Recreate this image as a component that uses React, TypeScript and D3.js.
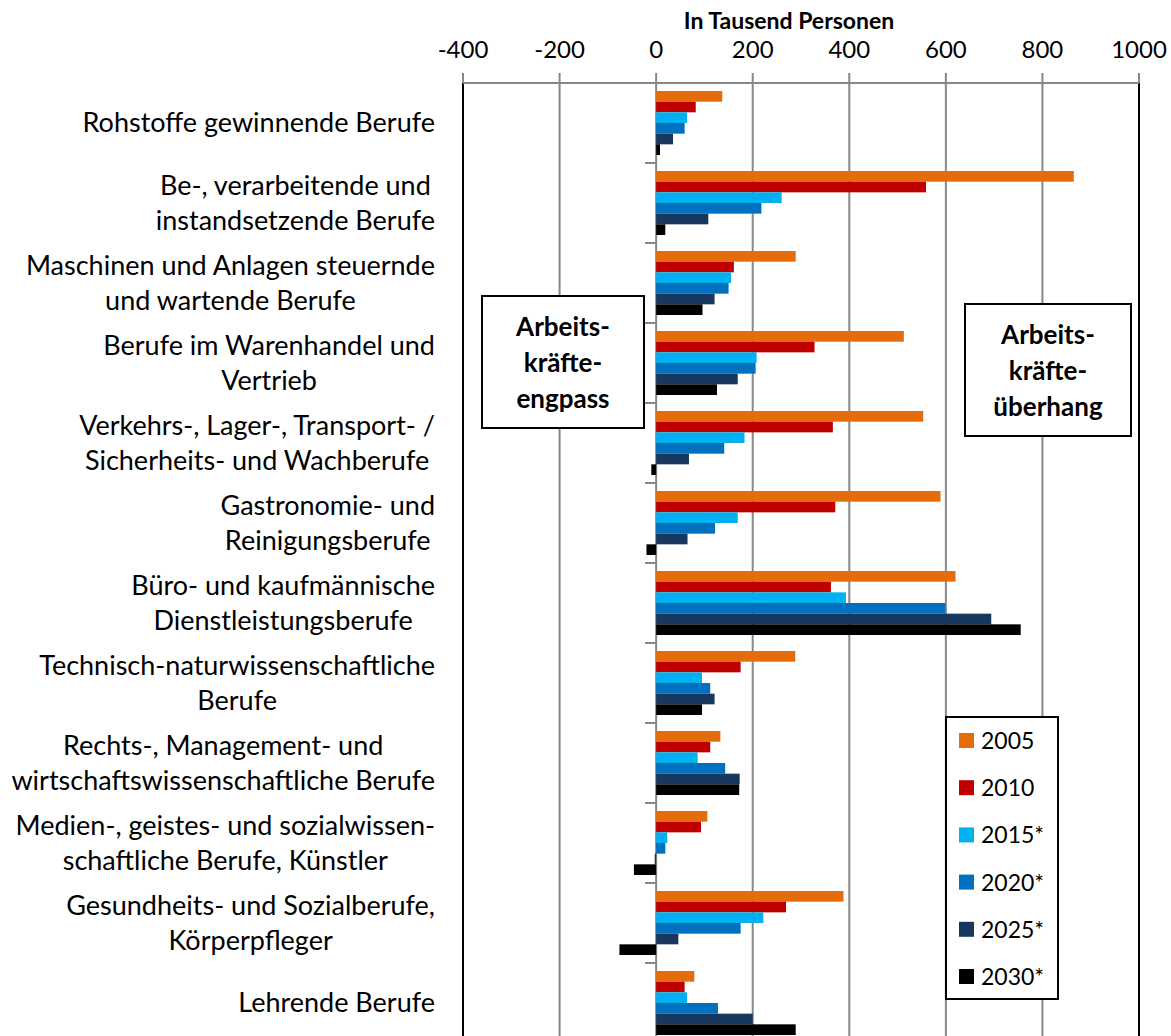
import React, { useEffect, useRef } from "react";
import * as d3 from "d3";

const categories: string[] = [
  "Rohstoffe gewinnende Berufe",
  "Be-, verarbeitende und\ninstandsetzende Berufe",
  "Maschinen und Anlagen steuernde\nund wartende Berufe",
  "Berufe im Warenhandel und\nVertrieb",
  "Verkehrs-, Lager-, Transport- /\nSicherheits- und Wachberufe",
  "Gastronomie- und\nReinigungsberufe",
  "Büro- und kaufmännische\nDienstleistungsberufe",
  "Technisch-naturwissenschaftliche\nBerufe",
  "Rechts-, Management- und\nwirtschaftswissenschaftliche Berufe",
  "Medien-, geistes- und sozialwissen-\nschaftliche Berufe, Künstler",
  "Gesundheits- und Sozialberufe,\nKörperpfleger",
  "Lehrende Berufe",
];

const seriesNames: string[] = ["2005", "2010", "2015*", "2020*", "2025*", "2030*"];
const seriesColors: string[] = ["#E46C0A", "#C00000", "#00B0F0", "#0070C0", "#17375E", "#000000"];

const values2005: number[] = [137, 865, 289, 513, 553, 589, 620, 288, 133, 106, 388, 79];
const values2010: number[] = [82, 559, 161, 328, 366, 371, 362, 175, 112, 93, 269, 59];
const values2015: number[] = [64, 260, 155, 208, 183, 169, 393, 95, 86, 23, 222, 64];
const values2020: number[] = [59, 218, 150, 206, 141, 122, 599, 112, 143, 19, 175, 128];
const values2025: number[] = [35, 108, 121, 169, 68, 65, 694, 121, 173, -3, 46, 200];
const values2030: number[] = [8, 19, 96, 126, -10, -20, 755, 95, 172, -46, -76, 289];

const xTicks: number[] = [-400, -200, 0, 200, 400, 600, 800, 1000];
const axisTitle = "In Tausend Personen";
const leftNote = ["Arbeits-", "kräfte-", "engpass"];
const rightNote = ["Arbeits-", "kräfte-", "überhang"];

const W = 1171;
const H = 1036;
const FONT = "Lato, 'Open Sans', sans-serif";

export default function App() {
  const ref = useRef<SVGSVGElement>(null);

  useEffect(() => {
    document.body.style.margin = "0";
    const seriesValues = [values2005, values2010, values2015, values2020, values2025, values2030];
    const svg = d3.select(ref.current);
    svg.selectAll("*").remove();

    const plot = { left: 463, right: 1139, top: 83, bottom: 1043 };
    const x = d3.scaleLinear().domain([-400, 1000]).range([plot.left, plot.right]);
    const y = d3
      .scaleBand<string>()
      .domain(categories)
      .range([plot.top, plot.bottom])
      .paddingInner(0.2)
      .paddingOuter(0.1);
    const ys = d3.scaleBand<string>().domain(seriesNames).range([0, y.bandwidth()]);
    const gap = (y.step() - y.bandwidth()) / 2;

    svg.append("rect").attr("width", W).attr("height", H).attr("fill", "#fff");

    const grid = "#878787";
    svg
      .append("g")
      .selectAll("line")
      .data(xTicks.filter((t) => t !== -400 && t !== 1000))
      .join("line")
      .attr("x1", (d) => x(d))
      .attr("x2", (d) => x(d))
      .attr("y1", plot.top)
      .attr("y2", plot.bottom)
      .attr("stroke", grid)
      .attr("stroke-width", 2);

    svg
      .append("rect")
      .attr("x", plot.left)
      .attr("y", plot.top)
      .attr("width", plot.right - plot.left)
      .attr("height", plot.bottom - plot.top)
      .attr("fill", "none")
      .attr("stroke", "#000")
      .attr("stroke-width", 2);

    svg
      .append("line")
      .attr("x1", plot.left)
      .attr("x2", plot.right)
      .attr("y1", plot.top)
      .attr("y2", plot.top)
      .attr("stroke", grid)
      .attr("stroke-width", 2);
    svg
      .append("g")
      .selectAll("line")
      .data(xTicks)
      .join("line")
      .attr("x1", (d) => x(d))
      .attr("x2", (d) => x(d))
      .attr("y1", plot.top - 10)
      .attr("y2", plot.top)
      .attr("stroke", grid)
      .attr("stroke-width", 2);
    svg
      .append("g")
      .selectAll("text")
      .data(xTicks)
      .join("text")
      .attr("x", (d) => x(d))
      .attr("y", 58)
      .attr("text-anchor", "middle")
      .attr("font-family", FONT)
      .attr("font-size", 24)
      .attr("fill", "#000")
      .text((d) => String(d));
    svg
      .append("text")
      .attr("x", 789)
      .attr("y", 29)
      .attr("text-anchor", "middle")
      .attr("font-family", FONT)
      .attr("font-weight", "bold")
      .attr("font-size", 23)
      .attr("fill", "#000")
      .text(axisTitle);

    const bounds = categories.map((c) => (y(c) as number) - gap).concat([plot.bottom]);
    svg
      .append("g")
      .selectAll("line")
      .data(bounds)
      .join("line")
      .attr("x1", x(0) - 11)
      .attr("x2", x(0))
      .attr("y1", (d) => d)
      .attr("y2", (d) => d)
      .attr("stroke", grid)
      .attr("stroke-width", 2);

    seriesNames.forEach((s, si) => {
      svg
        .append("g")
        .selectAll("rect")
        .data(categories.map((c, ci) => ({ c, v: seriesValues[si][ci] })))
        .join("rect")
        .attr("x", (d) => x(Math.min(0, d.v)))
        .attr("width", (d) => Math.abs(x(d.v) - x(0)))
        .attr("y", (d) => (y(d.c) as number) + (ys(s) as number))
        .attr("height", ys.bandwidth())
        .attr("fill", seriesColors[si]);
    });

    const labelRight = 435;
    const lineH = 35;
    const fs = 27;
    categories.forEach((c) => {
      const lines = c.split("\n");
      const g = svg.append("g");
      const texts = lines.map((l) =>
        g
          .append("text")
          .attr("font-family", FONT)
          .attr("font-size", fs)
          .attr("fill", "#000")
          .attr("text-anchor", "middle")
          .text(l)
      );
      const widths = texts.map((t) => (t.node() as SVGTextElement).getComputedTextLength());
      const bw = Math.max(...widths);
      const cx = labelRight - bw / 2;
      const cy = (y(c) as number) + y.bandwidth() / 2;
      texts.forEach((t, i) => {
        const ly = cy + (i - (lines.length - 1) / 2) * lineH;
        t.attr("x", cx).attr("y", ly + fs * 0.34);
      });
    });

    const drawNote = (lines: string[], x0: number, x1: number, y0: number, y1: number) => {
      const g = svg.append("g");
      g.append("rect")
        .attr("x", x0)
        .attr("y", y0)
        .attr("width", x1 - x0)
        .attr("height", y1 - y0)
        .attr("fill", "#fff")
        .attr("stroke", "#000")
        .attr("stroke-width", 2);
      const cx = (x0 + x1) / 2;
      const cy = (y0 + y1) / 2;
      lines.forEach((l, i) => {
        g.append("text")
          .attr("x", cx)
          .attr("y", cy + (i - 1) * 36 + 9.5)
          .attr("text-anchor", "middle")
          .attr("font-family", FONT)
          .attr("font-weight", "bold")
          .attr("font-size", 26)
          .attr("fill", "#000")
          .text(l);
      });
    };
    drawNote(leftNote, 482, 644, 296, 428);
    drawNote(rightNote, 965, 1131, 304, 436);

    const lg = svg.append("g");
    lg.append("rect")
      .attr("x", 946)
      .attr("y", 717)
      .attr("width", 112)
      .attr("height", 282)
      .attr("fill", "#fff")
      .attr("stroke", "#000")
      .attr("stroke-width", 2);
    seriesNames.forEach((s, i) => {
      const cy = 740.5 + i * 47.2;
      lg.append("rect")
        .attr("x", 959)
        .attr("y", cy - 7.5)
        .attr("width", 15)
        .attr("height", 15)
        .attr("fill", seriesColors[i]);
      lg.append("text")
        .attr("x", 981)
        .attr("y", cy + 8.5)
        .attr("font-family", FONT)
        .attr("font-size", 23)
        .attr("fill", "#000")
        .text(s);
    });
  }, []);

  return <svg ref={ref} width={W} height={H} style={{ display: "block" }} />;
}
